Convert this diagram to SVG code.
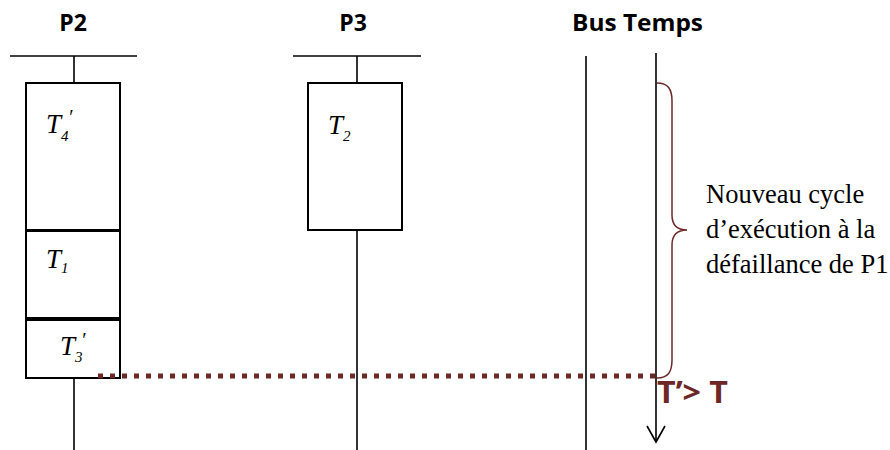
<svg xmlns="http://www.w3.org/2000/svg" width="890" height="450" viewBox="0 0 890 450">
<style>
.ln{stroke:#000;stroke-width:1.6;fill:none}
.box{stroke:#000;stroke-width:2;fill:#fff}
.hd{font-family:"Open Sans","Liberation Sans",sans-serif;font-weight:bold;font-size:23px;fill:#000}
.mt{font-family:"Liberation Serif",serif;font-style:italic;font-size:27px;fill:#000}
.sb{font-family:"Liberation Serif",serif;font-style:italic;font-size:15px;fill:#000}
.pr{font-family:"Liberation Serif",serif;font-size:20px;fill:#000}
.tx{font-family:"Liberation Serif",serif;font-size:26.5px;fill:#000}
</style>
<g id="P2">
<text class="hd" x="73" y="31" text-anchor="middle">P2</text>
<line class="ln" x1="10" y1="56" x2="137" y2="56"/>
<line class="ln" x1="74" y1="56" x2="74" y2="82"/>
<line class="ln" x1="74" y1="379" x2="74" y2="450"/>
<rect class="box" x="26" y="83" width="94" height="147"/>
<rect class="box" x="26" y="231" width="94" height="87"/>
<rect class="box" x="26" y="320" width="94" height="58"/>
<text class="mt" x="46" y="133">T<tspan class="sb" x="61" y="141">4</tspan><tspan class="pr" x="68" y="124">′</tspan></text>
<text class="mt" x="46" y="268">T<tspan class="sb" x="61" y="273">1</tspan></text>
<text class="mt" x="60" y="355">T<tspan class="sb" x="75" y="362">3</tspan><tspan class="pr" x="81" y="347">′</tspan></text>
</g>
<g id="P3">
<text class="hd" x="353" y="31" text-anchor="middle">P3</text>
<line class="ln" x1="293" y1="56" x2="421" y2="56"/>
<line class="ln" x1="357" y1="56" x2="357" y2="83"/>
<line class="ln" x1="357" y1="230" x2="357" y2="450"/>
<rect class="box" x="308" y="83" width="94" height="147"/>
<text class="mt" x="328" y="134">T<tspan class="sb" x="343" y="141">2</tspan></text>
</g>
<g id="Bus">
<text class="hd" x="572" y="31" textLength="131" lengthAdjust="spacingAndGlyphs">Bus Temps</text>
<line class="ln" x1="586" y1="56" x2="586" y2="450"/>
</g>
<g id="connectors">
<line class="ln" x1="656" y1="53" x2="656" y2="442"/>
<path d="M647,426 L656,442 L665,426" fill="none" stroke="#000" stroke-width="1.6"/>
<line x1="98" y1="376" x2="656" y2="376" stroke="#6d2727" stroke-width="5" stroke-dasharray="5,7"/>
<path d="M657,83 C668,83 672,89 672,101 L672,215 C672,225 677,230 687,230 C677,230 672,235 672,245 L672,360 C672,372 668,378 657,378" fill="none" stroke="#6d2727" stroke-width="1.5"/>
</g>
<g id="labels">
<text class="tx" x="706" y="203">Nouveau cycle</text>
<text class="tx" x="706" y="238">d’exécution à la</text>
<text class="tx" x="706" y="273">défaillance de P1</text>
<text x="657" y="403" font-family="'Open Sans','Liberation Sans',sans-serif" font-weight="bold" font-size="31" fill="#6d2727" textLength="71" lengthAdjust="spacingAndGlyphs">T’&gt; T</text>
</g>
</svg>
